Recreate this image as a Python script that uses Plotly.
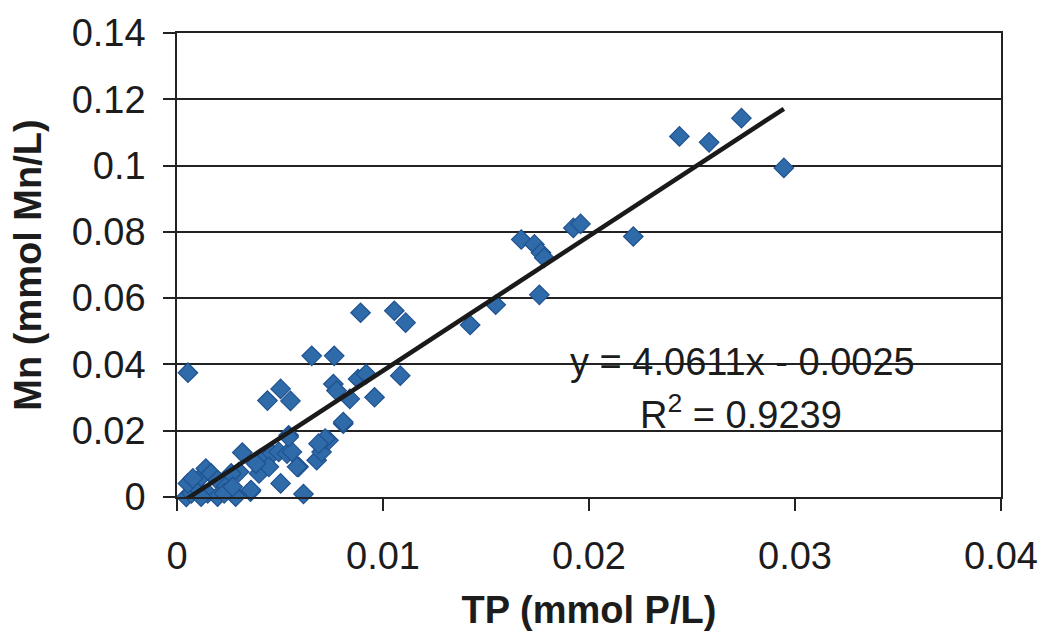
import plotly.graph_objects as go

# TP (mmol P/L)
tp = [0.00045, 0.0007, 0.00093, 0.00117, 0.0014, 0.00165, 0.00197, 0.00237, 0.00269, 0.00285,
      0.00053, 0.00077, 0.00149, 0.00197, 0.00117, 0.00229, 0.00301, 0.00317, 0.00357, 0.00405,
      0.00263, 0.0027, 0.00359, 0.00398, 0.0043, 0.00462, 0.00494, 0.00534, 0.00558, 0.00446,
      0.00383, 0.0059, 0.00503, 0.00614, 0.00678, 0.00702, 0.00735, 0.00807, 0.00542, 0.00583,
      0.00654, 0.00763, 0.00439, 0.00503, 0.00551, 0.00759, 0.00774, 0.00879, 0.00918, 0.00839,
      0.00959, 0.01084, 0.00807, 0.00542, 0.00719, 0.00687, 0.00053,
      0.00891, 0.01055, 0.0111, 0.01423, 0.01547, 0.01759,
      0.01671, 0.01735, 0.01767, 0.01783, 0.01924, 0.01959, 0.02215,
      0.02439, 0.02583, 0.0274, 0.02946]
# Mn (mmol Mn/L)
mn = [0.0, 0.0011, 0.0031, 0.0061, 0.0086, 0.0071, 0.0051, 0.0031, 0.0016, 0.0001,
      0.0041, 0.0056, 0.0011, 0.0001, 0.0001, 0.0011, 0.0076, 0.0134, 0.0016, 0.0116,
      0.0071, 0.0031, 0.0021, 0.0071, 0.0121, 0.0131, 0.0136, 0.0131, 0.0136, 0.0091,
      0.0101, 0.0091, 0.0041, 0.0009, 0.0111, 0.0136, 0.0171, 0.0221, 0.0186, 0.0091,
      0.0426, 0.0426, 0.0291, 0.0326, 0.029, 0.0341, 0.0321, 0.0356, 0.0371, 0.0296,
      0.0301, 0.0366, 0.0226, 0.0181, 0.0176, 0.0161, 0.0375,
      0.0556, 0.0562, 0.0526, 0.0519, 0.058, 0.061,
      0.0777, 0.0762, 0.0737, 0.0722, 0.0812, 0.0824, 0.0786,
      0.1088, 0.107, 0.1143, 0.0993]

slope = 4.0611
intercept = -0.0025
r_squared = 0.9239

x_ticks = [0, 0.01, 0.02, 0.03, 0.04]
x_tick_labels = ["0", "0.01", "0.02", "0.03", "0.04"]
y_ticks = [0, 0.02, 0.04, 0.06, 0.08, 0.1, 0.12, 0.14]
y_tick_labels = ["0", "0.02", "0.04", "0.06", "0.08", "0.1", "0.12", "0.14"]

line_x = [min(tp), max(tp)]
line_y = [slope * v + intercept for v in line_x]

font = "Liberation Sans, Arial, sans-serif"
ink = "#1c1c1c"

fig = go.Figure()
fig.add_trace(go.Scatter(
    x=tp, y=mn, mode="markers",
    marker=dict(symbol="diamond", size=15, color="#2F6BA8",
                line=dict(color="#1F5290", width=1.2)),
    showlegend=False, cliponaxis=False,
))
fig.add_trace(go.Scatter(
    x=line_x, y=line_y, mode="lines",
    line=dict(color="#1a1a1a", width=4.5),
    showlegend=False,
))

fig.add_annotation(x=0.02746, y=0.0406, xref="x", yref="y",
                   text=f"y = {slope}x - {abs(intercept):.4f}", showarrow=False,
                   font=dict(family=font, size=38, color=ink))
fig.add_annotation(x=0.0274, y=0.0256, xref="x", yref="y",
                   text=f"R<sup>2</sup> = {r_squared}", showarrow=False,
                   font=dict(family=font, size=38, color=ink))

fig.update_layout(
    width=1050, height=640,
    margin=dict(l=177, r=40, t=31, b=143),
    paper_bgcolor="white", plot_bgcolor="white",
    font=dict(family=font, color=ink),
)
fig.update_xaxes(
    range=[0, 0.04], tickvals=x_ticks, ticktext=x_tick_labels,
    showgrid=False, zeroline=False,
    showline=True, linecolor="#222", linewidth=1.5, mirror=True,
    ticks="outside", ticklen=12, tickcolor="#222", tickwidth=1.5,
    ticklabelstandoff=13,
    tickfont=dict(family=font, size=38, color=ink),
    title=dict(text="<b>TP (mmol P/L)</b>", font=dict(family=font, size=38, color=ink),
               standoff=20),
)
fig.update_yaxes(
    range=[0, 0.14], tickvals=y_ticks, ticktext=y_tick_labels,
    showgrid=True, gridcolor="#222", gridwidth=1.5, zeroline=False,
    showline=True, linecolor="#222", linewidth=1.5, mirror=True,
    ticks="outside", ticklen=12, tickcolor="#222", tickwidth=1.5,
    ticklabelstandoff=10,
    tickfont=dict(family=font, size=38, color=ink),
    title=dict(text="<b>Mn (mmol Mn/L)</b>", font=dict(family=font, size=38, color=ink),
               standoff=18),
)

fig.write_html("out.html")
